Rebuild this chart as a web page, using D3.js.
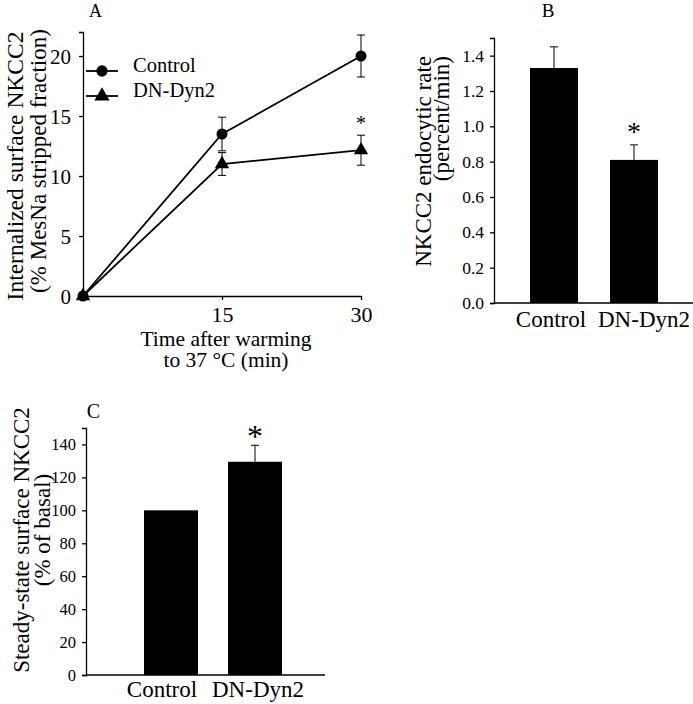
<!DOCTYPE html>
<html><head><meta charset="utf-8">
<script src="https://cdn.jsdelivr.net/npm/d3@7"></script>
<style>
#c text { font-family: "Liberation Serif", "Times New Roman", Tinos, Times, serif !important; }
</style>
</head>
<body style="margin:0">
<svg id="c" width="693" height="704"></svg>
<script>
// ---- Data ----
const timepoints = [0, 15, 30];
const controlMean = [0, 13.5, 20.0];
const controlErr = [0, 1.4, 1.75];
const dnMean = [0, 11.0, 12.15];
const dnErr = [0, 0.95, 1.25];
const aTicksY = [0, 5, 10, 15, 20];
const aTicksX = [15, 30];

const categories = ["Control", "DN-Dyn2"];
const rateMean = [1.33, 0.81];
const rateErr = [0.12, 0.085];
const bTicks = [0.0, 0.2, 0.4, 0.6, 0.8, 1.0, 1.2, 1.4];

const surfaceMean = [100, 129.5];
const surfaceErr = [0, 10];
const cTicks = [0, 20, 40, 60, 80, 100, 120, 140];

const svg = d3.select("#c");
const stroke = "#000";

function txt(g, x, y, size, s, anchor) {
  return g.append("text").attr("x", x).attr("y", y).attr("font-size", size)
    .attr("text-anchor", anchor || "start").text(s);
}
function vtxt(g, x, y, size, s, anchor) {
  return g.append("text").attr("transform", `translate(${x},${y}) rotate(-90)`).attr("font-size", size)
    .attr("text-anchor", anchor || "middle").text(s);
}

// ---------- Panel A ----------
{
  const g = svg.append("g");
  const x = d3.scaleLinear().domain([0, 30]).range([83, 361]);
  const y = d3.scaleLinear().domain([0, 22]).range([296, 32]);
  const ya = g.append("g").attr("transform", "translate(83,0)")
    .call(d3.axisLeft(y).tickValues(aTicksY).tickSize(4).tickPadding(8));
  ya.selectAll("text").attr("font-size", 21).attr("dy", "0.34em");
  const xa = g.append("g").attr("transform", "translate(0,296)")
    .call(d3.axisBottom(x).tickValues(aTicksX).tickSize(4).tickPadding(6).tickSizeOuter(0));
  xa.selectAll("text").attr("font-size", 22);
  g.selectAll(".domain,.tick line").attr("stroke", stroke).attr("stroke-width", 1.3);

  const series = [
    {name: "Control", mean: controlMean, err: controlErr, shape: d3.symbolCircle},
    {name: "DN-Dyn2", mean: dnMean, err: dnErr, shape: d3.symbolTriangle}
  ];
  const line = d3.line().x((d, i) => x(timepoints[i])).y(d => y(d));
  series.forEach(s => {
    g.append("path").attr("d", line(s.mean)).attr("fill", "none")
      .attr("stroke", stroke).attr("stroke-width", 1.8);
    s.mean.forEach((m, i) => {
      if (s.err[i] > 0) {
        const cx = x(timepoints[i]);
        const y1 = y(m + s.err[i]), y0 = y(m - s.err[i]);
        g.append("line").attr("x1", cx).attr("x2", cx).attr("y1", y1).attr("y2", y0)
          .attr("stroke", stroke).attr("stroke-width", 1);
        [y1, y0].forEach(yy => g.append("line").attr("x1", cx - 4).attr("x2", cx + 4)
          .attr("y1", yy).attr("y2", yy).attr("stroke", stroke).attr("stroke-width", 1));
      }
      g.append("path").attr("d", d3.symbol(s.shape, s.shape === d3.symbolCircle ? 95 : 90)())
        .attr("transform", `translate(${x(timepoints[i])},${y(m)})`).attr("fill", stroke);
    });
  });
  txt(g, x(30), y(dnMean[2] + dnErr[2]) - 5, 20, "*", "middle");

  const leg = [{name: "Control", shape: d3.symbolCircle, yy: 71}, {name: "DN-Dyn2", shape: d3.symbolTriangle, yy: 96}];
  leg.forEach(l => {
    g.append("line").attr("x1", 86).attr("x2", 118).attr("y1", l.yy).attr("y2", l.yy)
      .attr("stroke", stroke).attr("stroke-width", 1.8);
    g.append("path").attr("d", d3.symbol(l.shape, 100)()).attr("transform", `translate(102,${l.yy})`).attr("fill", stroke);
    txt(g, 133, l.yy + 1, 20.5, l.name);
  });

  txt(g, 95.5, 17, 18, "A", "middle");
  vtxt(g, 23, 166, 23.5, "Internalized surface NKCC2");
  vtxt(g, 46, 161, 23, "(% MesNa stripped fraction)");
  txt(g, 226, 346, 21.5, "Time after warming", "middle");
  txt(g, 226, 367, 21.5, "to 37 °C (min)", "middle");
}

// ---------- Panel B ----------
{
  const g = svg.append("g");
  const x = d3.scaleBand().domain(categories).range([514, 674]).paddingInner(0.4).paddingOuter(0.2);
  const y = d3.scaleLinear().domain([0, 1.5]).range([303, 38]);
  const ya = g.append("g").attr("transform", "translate(494,0)")
    .call(d3.axisLeft(y).tickValues(bTicks).tickFormat(d3.format(".1f")).tickSize(4).tickPadding(6));
  ya.selectAll("text").attr("font-size", 17.5);
  g.append("line").attr("x1", 494).attr("x2", 693).attr("y1", 303).attr("y2", 303).attr("stroke", stroke).attr("stroke-width", 1.3);
  const xa = g.append("g").attr("transform", "translate(0,303)")
    .call(d3.axisBottom(x).tickSize(0).tickPadding(8));
  xa.select(".domain").remove();
  xa.selectAll("text").attr("font-size", 23).attr("dx", (d, i) => i === 0 ? -3 : 10);
  g.selectAll(".domain,.tick line").attr("stroke", stroke).attr("stroke-width", 1.3);

  categories.forEach((c, i) => {
    const cx = x(c) + x.bandwidth() / 2;
    g.append("line").attr("x1", cx).attr("x2", cx).attr("y1", y(rateMean[i])).attr("y2", y(rateMean[i] + rateErr[i]))
      .attr("stroke", stroke).attr("stroke-width", 1);
    g.append("line").attr("x1", cx - 4).attr("x2", cx + 4).attr("y1", y(rateMean[i] + rateErr[i])).attr("y2", y(rateMean[i] + rateErr[i]))
      .attr("stroke", stroke).attr("stroke-width", 1);
    g.append("rect").attr("x", x(c)).attr("width", x.bandwidth()).attr("y", y(rateMean[i]))
      .attr("height", y(0) - y(rateMean[i])).attr("fill", "#000");
  });
  const c2 = x(categories[1]) + x.bandwidth() / 2;
  txt(g, c2, y(rateMean[1] + rateErr[1]) - 4, 28, "*", "middle");

  txt(g, 548, 17, 19, "B", "middle");
  vtxt(g, 431, 56, 23, "NKCC2 endocytic rate", "end");
  vtxt(g, 449, 56, 23, "(percent/min)", "end");
}

// ---------- Panel C ----------
{
  const g = svg.append("g");
  const x = d3.scaleBand().domain(categories).range([102, 324]).paddingInner(0.357).paddingOuter(0.5);
  const y = d3.scaleLinear().domain([0, 150]).range([675, 428]);
  const ya = g.append("g").attr("transform", "translate(86,0)")
    .call(d3.axisLeft(y).tickValues(cTicks).tickSize(4).tickPadding(6));
  ya.selectAll("text").attr("font-size", 16.5);
  g.append("line").attr("x1", 86).attr("x2", 325).attr("y1", 675).attr("y2", 675).attr("stroke", stroke).attr("stroke-width", 1.3);
  const xa = g.append("g").attr("transform", "translate(0,675)")
    .call(d3.axisBottom(x).tickSize(0).tickPadding(6));
  xa.select(".domain").remove();
  xa.selectAll("text").attr("font-size", 23).attr("dx", (d, i) => i === 0 ? -9 : 3);
  g.selectAll(".domain,.tick line").attr("stroke", stroke).attr("stroke-width", 1.3);

  categories.forEach((c, i) => {
    const cx = x(c) + x.bandwidth() / 2;
    if (surfaceErr[i] > 0) {
      g.append("line").attr("x1", cx).attr("x2", cx).attr("y1", y(surfaceMean[i])).attr("y2", y(surfaceMean[i] + surfaceErr[i]))
        .attr("stroke", stroke).attr("stroke-width", 1);
      g.append("line").attr("x1", cx - 4).attr("x2", cx + 4).attr("y1", y(surfaceMean[i] + surfaceErr[i])).attr("y2", y(surfaceMean[i] + surfaceErr[i]))
        .attr("stroke", stroke).attr("stroke-width", 1);
    }
    g.append("rect").attr("x", x(c)).attr("width", x.bandwidth()).attr("y", y(surfaceMean[i]))
      .attr("height", y(0) - y(surfaceMean[i])).attr("fill", "#000");
  });
  const c2 = x(categories[1]) + x.bandwidth() / 2;
  txt(g, c2, y(surfaceMean[1] + surfaceErr[1]) + 2, 32, "*", "middle");

  txt(g, 93.5, 418, 20, "C", "middle");
  vtxt(g, 29, 540, 23, "Steady-state surface NKCC2");
  vtxt(g, 50, 530, 23, "(% of basal)");
}

svg.selectAll("g").attr("font-family", null);
svg.selectAll("text").attr("font-family", "Liberation Serif")
  .style("font-family", "'Liberation Serif', 'Times New Roman', serif").attr("fill", "#000");
</script>
</body></html>
